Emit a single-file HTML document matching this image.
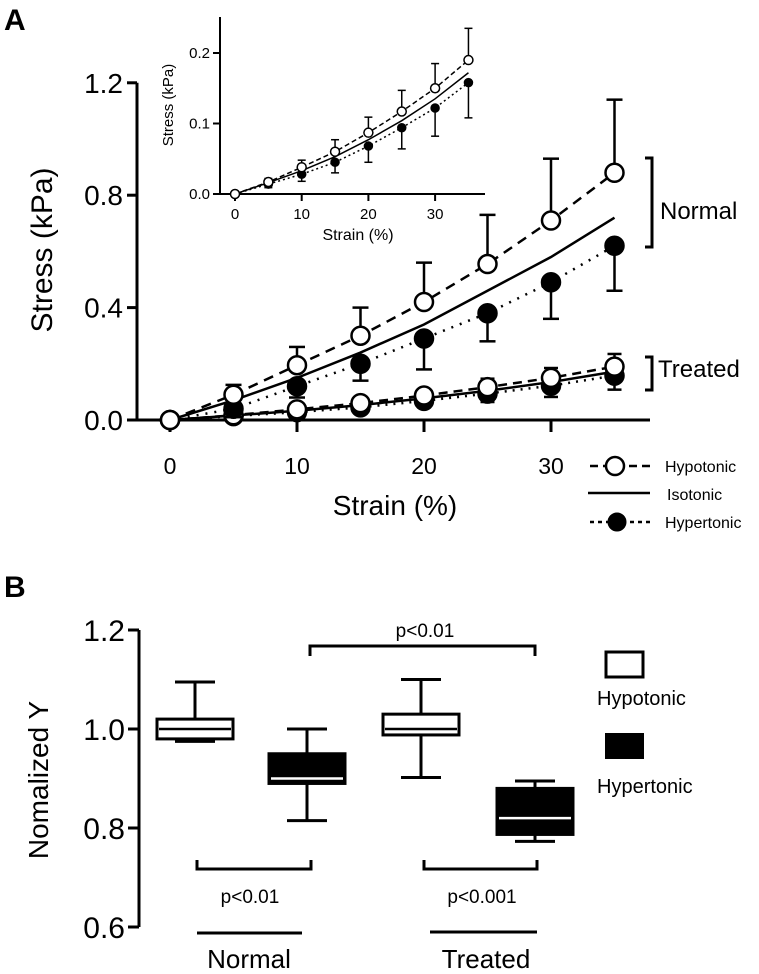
<!DOCTYPE html>
<html><head><meta charset="utf-8"><style>
body{margin:0;background:#fff}
svg{display:block;font-family:"Liberation Sans",Arial,sans-serif}
</style></head><body>
<svg id="fig" width="759" height="974" viewBox="0 0 759 974"></svg>
<script>
// ---- Panel A data ----
const strain = [0,5,10,15,20,25,30,35];
const normHypo = [0,0.09,0.195,0.30,0.42,0.555,0.71,0.88];
const normHypoErr = [0,0.035,0.065,0.10,0.14,0.175,0.22,0.26];
const normIso = [0,0.07,0.15,0.24,0.34,0.46,0.58,0.72];
const normHyper = [0,0.04,0.12,0.20,0.29,0.38,0.49,0.62];
const normHyperErr = [0,0.03,0.04,0.06,0.11,0.10,0.13,0.16];
const trHypo = [0,0.017,0.038,0.06,0.087,0.117,0.15,0.19];
const trHypoErr = [0,0.005,0.01,0.017,0.022,0.03,0.035,0.045];
const trIso = [0,0.016,0.033,0.053,0.077,0.104,0.135,0.172];
const trHyper = [0,0.014,0.028,0.045,0.068,0.094,0.122,0.158];
const trHyperErr = [0,0.005,0.01,0.015,0.023,0.03,0.04,0.05];
const mainYTicks = [0,0.4,0.8,1.2];
const mainXTicks = [0,10,20,30];
const insetYTicks = [0,0.1,0.2];
const insetXTicks = [0,10,20,30];
// ---- Panel B data ----
const groups = ["Normal","Normal","Treated","Treated"];
const boxType = ["hypo","hyper","hypo","hyper"];
const whiskLo = [0.975,0.815,0.902,0.773];
const q1 = [0.98,0.89,0.988,0.787];
const med = [1.0,0.90,1.0,0.82];
const q3 = [1.02,0.95,1.03,0.88];
const whiskHi = [1.095,1.0,1.1,0.895];
const bYTicks = [0.6,0.8,1.0,1.2];

const NS="http://www.w3.org/2000/svg";
const svg=document.getElementById('fig');
function el(tag,attrs,parent){const e=document.createElementNS(NS,tag);for(const k in attrs)e.setAttribute(k,attrs[k]);(parent||svg).appendChild(e);return e;}
function txt(s,x,y,size,attrs,parent){const t=el('text',Object.assign({x:x,y:y,'font-size':size,fill:'#000'},attrs||{}),parent);t.textContent=s;return t;}

// Main axes
const mx=v=>170+v*12.7, my=v=>420-v*281;
const gA=el('g',{});


let t=txt('A',4,30,30,{'font-weight':'bold'},gA);

el('line',{x1:137,y1:my(1.2),x2:137,y2:420,stroke:'#000','stroke-width':3},gA);
el('line',{x1:137,y1:420,x2:650,y2:420,stroke:'#000','stroke-width':3},gA);
mainYTicks.forEach(v=>{el('line',{x1:127,y1:my(v),x2:137,y2:my(v),stroke:'#000','stroke-width':3},gA);
 const l=txt(v.toFixed(1),123,my(v)+10,28,{'text-anchor':'end'},gA);});
mainXTicks.forEach(v=>{el('line',{x1:mx(v),y1:420,x2:mx(v),y2:432,stroke:'#000','stroke-width':3},gA);
 const l=txt(String(v),mx(v),474,23,{'text-anchor':'middle'},gA);});
t=txt('Strain (%)',395,515,28,{'text-anchor':'middle'},gA);
t=txt('Stress (kPa)',0,0,30,{'text-anchor':'middle',transform:'translate(52,250) rotate(-90)'},gA);

function series(xs,ys,errs,fx,fy,dash,fill,r,sw,name,errDir,parent,cap){
 const g=el('g',{},parent);
 
 
 el('polyline',{points:xs.map((x,i)=>fx(x)+','+fy(ys[i])).join(' '),fill:'none',stroke:'#000','stroke-width':sw,'stroke-dasharray':dash},g);
 if(errs){xs.forEach((x,i)=>{if(!errs[i])return;const e=fy(ys[i]+errDir*errs[i]);
  el('line',{x1:fx(x),y1:fy(ys[i]),x2:fx(x),y2:e,stroke:'#000','stroke-width':sw},g);
  el('line',{x1:fx(x)-cap,y1:e,x2:fx(x)+cap,y2:e,stroke:'#000','stroke-width':sw},g);});}
 if(r){xs.forEach((x,i)=>{const c=el('circle',{cx:fx(x),cy:fy(ys[i]),r:r,fill:fill,stroke:'#000','stroke-width':sw},g);
  });}
}
series(strain,trIso,null,mx,my,'',null,0,2.5,'treated-isotonic-line',1,gA,0);
series(strain,trHyper,trHyperErr,mx,my,'2,6','#000',9,2.5,'treated-hypertonic',-1,gA,7);
series(strain,trHypo,trHypoErr,mx,my,'9,6','#fff',9,2.5,'treated-hypotonic',1,gA,7);
series(strain,normIso,null,mx,my,'',null,0,2.5,'normal-isotonic-line',1,gA,0);
series(strain,normHyper,normHyperErr,mx,my,'2,7','#000',9,2.5,'normal-hypertonic',-1,gA,8);
series(strain,normHypo,normHypoErr,mx,my,'10,7','#fff',9,2.5,'normal-hypotonic',1,gA,8);

el('path',{d:'M645,158 H652 V247 H645',fill:'none',stroke:'#000','stroke-width':3},gA);
t=txt('Normal',660,219,24,{},gA);
el('path',{d:'M645,357 H652 V390 H645',fill:'none',stroke:'#000','stroke-width':3},gA);
t=txt('Treated',658,377,24,{},gA);

// legend
const lg=el('g',{},gA);
el('line',{x1:590,y1:466,x2:650,y2:466,stroke:'#000','stroke-width':2.5,'stroke-dasharray':'8,5'},lg);
el('circle',{cx:615,cy:466,r:9,fill:'#fff',stroke:'#000','stroke-width':2.5},lg);
txt('Hypotonic',665,472,16,{},lg);
el('line',{x1:588,y1:493,x2:650,y2:493,stroke:'#000','stroke-width':2.5},lg);
txt('Isotonic',667,500,16,{},lg);
el('line',{x1:590,y1:522,x2:650,y2:522,stroke:'#000','stroke-width':2.5,'stroke-dasharray':'4,4'},lg);
el('circle',{cx:617,cy:522,r:9,fill:'#000',stroke:'#000'},lg);
txt('Hypertonic',665,528,16,{},lg);

// inset
const gi=el('g',{});
const ix=v=>235+v*6.67, iy=v=>194-v*705;
el('line',{x1:220,y1:17,x2:220,y2:194,stroke:'#000','stroke-width':2},gi);
el('line',{x1:220,y1:194,x2:485,y2:194,stroke:'#000','stroke-width':2},gi);
insetYTicks.forEach(v=>{el('line',{x1:213,y1:iy(v),x2:220,y2:iy(v),stroke:'#000','stroke-width':2},gi);txt(v.toFixed(1),210,iy(v)+5,15,{'text-anchor':'end'},gi);});
insetXTicks.forEach(v=>{el('line',{x1:ix(v),y1:194,x2:ix(v),y2:201,stroke:'#000','stroke-width':2},gi);txt(String(v),ix(v),219,15,{'text-anchor':'middle'},gi);});
txt('Strain (%)',358,240,16,{'text-anchor':'middle'},gi);
txt('Stress (kPa)',0,0,15,{'text-anchor':'middle',transform:'translate(173,105) rotate(-90)'},gi);
series(strain,trIso,null,ix,iy,'',null,0,1.5,'inset-isotonic-line',1,gi,0);
series(strain,trHyper,trHyperErr,ix,iy,'2,3','#000',4,1.5,'inset-hypertonic',-1,gi,4);
series(strain,trHypo,trHypoErr,ix,iy,'5,3','#fff',4.5,1.5,'inset-hypotonic',1,gi,4);

// Panel B
const gB=el('g',{});
t=txt('B',4,597,30,{'font-weight':'bold'},gB);
const by=v=>927-(v-0.6)*495;
el('line',{x1:139,y1:by(1.2),x2:139,y2:by(0.6),stroke:'#000','stroke-width':3},gB);
bYTicks.forEach(v=>{el('line',{x1:128,y1:by(v),x2:139,y2:by(v),stroke:'#000','stroke-width':3},gB);
 const l=txt(v.toFixed(1),125,by(v)+11,30,{'text-anchor':'end'},gB);});
t=txt('Nomalized Y',0,0,28,{'text-anchor':'middle',transform:'translate(48,780) rotate(-90)'},gB);
const boxX=[195,307,421,535];
boxX.forEach((cx,i)=>{
 const g=el('g',{},gB);
 
 
 const fill=boxType[i]==='hyper'?'#000':'#fff';
 el('line',{x1:cx,y1:by(whiskHi[i]),x2:cx,y2:by(whiskLo[i]),stroke:'#000','stroke-width':3},g);
 el('line',{x1:cx-20,y1:by(whiskHi[i]),x2:cx+20,y2:by(whiskHi[i]),stroke:'#000','stroke-width':3},g);
 el('line',{x1:cx-20,y1:by(whiskLo[i]),x2:cx+20,y2:by(whiskLo[i]),stroke:'#000','stroke-width':3},g);
 el('rect',{x:cx-38,y:by(q3[i]),width:76,height:by(q1[i])-by(q3[i]),fill:fill,stroke:'#000','stroke-width':3},g);
 el('line',{x1:cx-36,y1:by(med[i]),x2:cx+36,y2:by(med[i]),stroke:fill==='#000'?'#fff':'#000','stroke-width':2.5},g);
});
el('path',{d:'M310,656 V646 H535 V656',fill:'none',stroke:'#000','stroke-width':3},gB);
txt('p<0.01',425,637,19,{'text-anchor':'middle'},gB);
el('path',{d:'M197,860 V869 H311 V860',fill:'none',stroke:'#000','stroke-width':3},gB);
txt('p<0.01',250,903,19,{'text-anchor':'middle'},gB);
el('path',{d:'M424,860 V869 H537 V860',fill:'none',stroke:'#000','stroke-width':3},gB);
txt('p<0.001',482,903,19,{'text-anchor':'middle'},gB);
el('line',{x1:197,y1:933,x2:302,y2:933,stroke:'#000','stroke-width':3},gB);
txt('Normal',249,968,26,{'text-anchor':'middle'},gB);
el('line',{x1:430,y1:932,x2:537,y2:932,stroke:'#000','stroke-width':3},gB);
txt('Treated',486,968,26,{'text-anchor':'middle'},gB);
const lb=el('g',{},gB);
el('rect',{x:606,y:652,width:37,height:25,fill:'#fff',stroke:'#000','stroke-width':3},lb);
txt('Hypotonic',597,705,20,{},lb);
el('rect',{x:605,y:733,width:39,height:26,fill:'#000'},lb);
txt('Hypertonic',597,793,20,{},lb);
</script>
</body></html>
